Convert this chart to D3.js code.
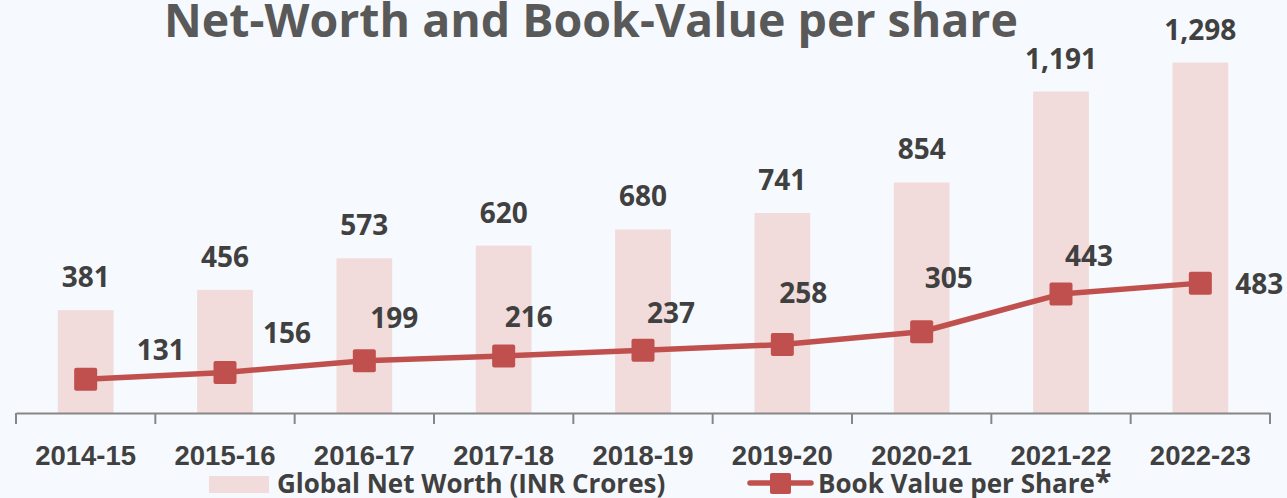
<!DOCTYPE html>
<html>
<head>
<meta charset="utf-8">
<script src="https://cdnjs.cloudflare.com/ajax/libs/d3/7.8.5/d3.min.js"></script>
<style>
  body { margin: 0; background: #f6f9fd; }
  svg { display: block; font-family: "Open Sans", "Noto Sans", sans-serif; font-weight: 700; }
</style>
</head>
<body>
<div id="chart"></div>
<script>
// data
var years = ['2014-15', '2015-16', '2016-17', '2017-18', '2018-19', '2019-20', '2020-21', '2021-22', '2022-23'];
var netWorth = [381, 456, 573, 620, 680, 741, 854, 1191, 1298];
var bookValue = [131, 156, 199, 216, 237, 258, 305, 443, 483];

// where each book value label sits, relative to its marker (hand placed in the original)
var bvLabelShift = [[75, -19], [62, -29], [30, -33], [25, -29], [28, -27], [21, -42], [27, -44], [28, -28], [59, 11]];

var W = 1287, H = 498;
var barColor = '#f2dcdb', lineColor = '#c0504d', textColor = '#404040';

var svg = d3.select('#chart').append('svg').attr('width', W).attr('height', H);
svg.append('rect').attr('width', W).attr('height', H).attr('fill', '#f6f9fd');

var x = d3.scaleBand().domain(years).range([16, 1270]).paddingInner(0.6).paddingOuter(0.3);
var yBar = d3.scaleLinear().domain([0, 1530]).range([413, 0]);
var yLine = d3.scaleLinear().domain([0, 1520]).range([415, 0]);
var cx = function(d, i) { return x(years[i]) + x.bandwidth() / 2; };

// title
svg.append('text').attr('x', 591).attr('y', 37).attr('text-anchor', 'middle')
  .attr('font-size', 46.5).attr('fill', '#595959').text('Net-Worth and Book-Value per share');

// bars
svg.append('g').selectAll('rect').data(netWorth).enter().append('rect')
  .attr('x', function(d, i) { return x(years[i]); })
  .attr('width', x.bandwidth())
  .attr('y', function(d) { return yBar(d); })
  .attr('height', function(d) { return yBar(0) - yBar(d); })
  .attr('fill', barColor);

svg.append('g').selectAll('text').data(netWorth).enter().append('text')
  .attr('x', cx)
  .attr('y', function(d) { return yBar(d) - 23; })
  .attr('text-anchor', 'middle').attr('font-size', 28).attr('fill', textColor)
  .text(d3.format(','));

// axis
var axis = d3.axisBottom(x).tickSize(0).tickPadding(30);
var gx = svg.append('g').attr('transform', 'translate(0,413)').call(axis);
gx.select('.domain').attr('stroke', '#878787').attr('stroke-width', 2);
gx.selectAll('text').attr('font-size', 27.5).attr('fill', textColor).attr('font-family', null)
  .attr('dy', null).attr('y', 52);
gx.selectAll('.tick-b').data(d3.range(years.length + 1)).enter().append('line')
  .attr('x1', function(i) { return x.range()[0] + i * x.step(); })
  .attr('x2', function(i) { return x.range()[0] + i * x.step(); })
  .attr('y1', 0).attr('y2', 11)
  .attr('stroke', '#878787').attr('stroke-width', 2);

// book value line
var line = d3.line().x(cx).y(function(d) { return yLine(d); });
svg.append('path').datum(bookValue).attr('d', line)
  .attr('fill', 'none').attr('stroke', lineColor).attr('stroke-width', 5.5).attr('stroke-linejoin', 'round');

svg.append('g').selectAll('rect').data(bookValue).enter().append('rect')
  .attr('x', function(d, i) { return cx(d, i) - 11.5; })
  .attr('y', function(d) { return yLine(d) - 11.5; })
  .attr('width', 23).attr('height', 23).attr('rx', 2)
  .attr('fill', lineColor);

svg.append('g').selectAll('text').data(bookValue).enter().append('text')
  .attr('x', function(d, i) { return cx(d, i) + bvLabelShift[i][0]; })
  .attr('y', function(d, i) { return yLine(d) + bvLabelShift[i][1]; })
  .attr('text-anchor', 'middle').attr('font-size', 28).attr('fill', textColor)
  .text(function(d) { return d; });

// legend
var lg = svg.append('g');
lg.append('rect').attr('x', 209).attr('y', 476).attr('width', 60).attr('height', 17).attr('fill', barColor);
lg.append('text').attr('x', 277).attr('y', 493).attr('font-size', 26).attr('fill', textColor)
  .text('Global Net Worth (INR Crores)');
lg.append('line').attr('x1', 750).attr('x2', 811).attr('y1', 483).attr('y2', 483)
  .attr('stroke', lineColor).attr('stroke-width', 5.5).attr('stroke-linecap', 'round');
lg.append('rect').attr('x', 770).attr('y', 473).attr('width', 21).attr('height', 21).attr('rx', 2).attr('fill', lineColor);
var t2 = lg.append('text').attr('x', 818).attr('y', 493).attr('font-size', 26).attr('fill', textColor);
t2.append('tspan').text('Book Value per Share');
t2.append('tspan').attr('font-size', 30).attr('dy', -1).text('*');
</script>
</body>
</html>
